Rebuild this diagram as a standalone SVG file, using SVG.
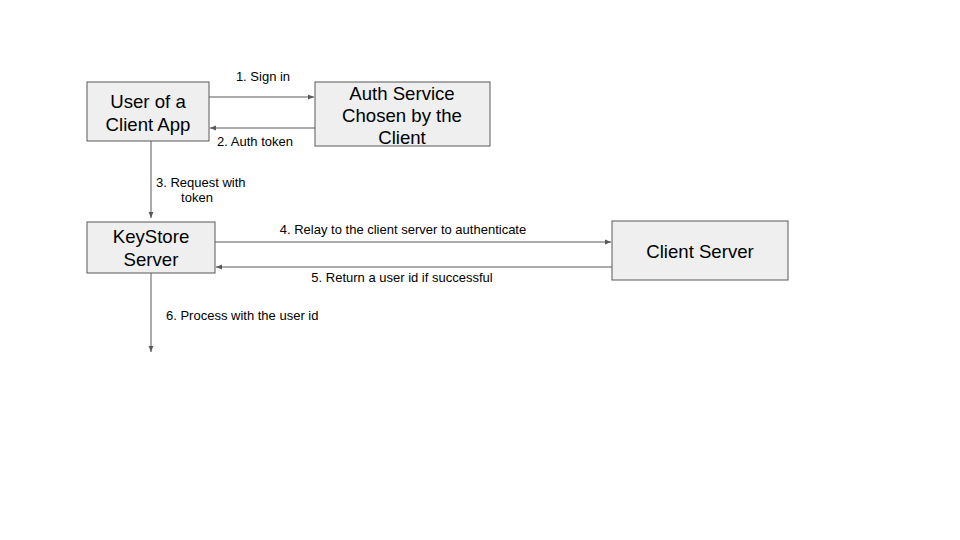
<svg xmlns="http://www.w3.org/2000/svg" width="960" height="540" viewBox="0 0 960 540">
<style>
.node{fill:#efefef;stroke:#595959;stroke-width:1}
.nt{font-family:"Liberation Sans",Arial,sans-serif;font-size:18.6px;fill:#000;text-anchor:middle}
.et{font-family:"Liberation Sans",Arial,sans-serif;font-size:13px;fill:#000}
.c{stroke:#595959;stroke-width:1;fill:none;marker-end:url(#ah)}
</style>
<defs>
<marker id="ah" viewBox="0 0 10 10" refX="10" refY="5" markerWidth="6" markerHeight="6" orient="auto" markerUnits="userSpaceOnUse">
<path d="M0,1 L10,5 L0,9 z" fill="#595959"/>
</marker>
</defs>
<rect width="960" height="540" fill="#fff"/>
<g id="user">
<rect class="node" x="87" y="82" width="122" height="59"/>
<text class="nt" x="148" y="108">User of a</text>
<text class="nt" x="148" y="131">Client App</text>
</g>
<g id="auth">
<rect class="node" x="315" y="82" width="175" height="64"/>
<text class="nt" x="402" y="100">Auth Service</text>
<text class="nt" x="402" y="122">Chosen by the</text>
<text class="nt" x="402" y="144">Client</text>
</g>
<g id="keystore">
<rect class="node" x="87" y="222" width="128" height="51"/>
<text class="nt" x="151" y="243">KeyStore</text>
<text class="nt" x="151" y="266">Server</text>
</g>
<g id="clientserver">
<rect class="node" x="612" y="221" width="176" height="59"/>
<text class="nt" x="700" y="258">Client Server</text>
</g>
<g id="connectors">
<line class="c" x1="209" y1="97" x2="314" y2="97"/>
<line class="c" x1="315" y1="128" x2="210" y2="128"/>
<line class="c" x1="151" y1="141" x2="151" y2="218"/>
<line class="c" x1="215" y1="242" x2="611" y2="242"/>
<line class="c" x1="612" y1="267" x2="216" y2="267"/>
<line class="c" x1="151" y1="273" x2="151" y2="352"/>
<text class="et" x="263" y="81" text-anchor="middle">1. Sign in</text>
<text class="et" x="255" y="146" text-anchor="middle">2. Auth token</text>
<text class="et" x="156" y="187">3. Request with</text>
<text class="et" x="197" y="202" text-anchor="middle">token</text>
<text class="et" x="403" y="234" text-anchor="middle">4. Relay to the client server to authenticate</text>
<text class="et" x="402" y="282" text-anchor="middle">5. Return a user id if successful</text>
<text class="et" x="166" y="320">6. Process with the user id</text>
</g>
</svg>
